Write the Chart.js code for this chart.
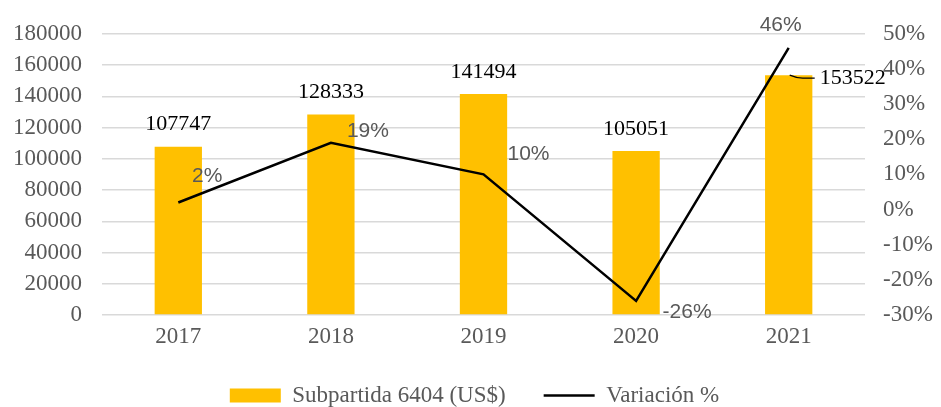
<!DOCTYPE html>
<html><head><meta charset="utf-8">
<script src="https://cdn.jsdelivr.net/npm/chart.js@4.4.1/dist/chart.umd.min.js"></script>
<style>html,body{margin:0;padding:0;background:#fff}#wrap{width:941px;height:407px;position:relative}</style>
</head><body><div id="wrap"><canvas id="c"></canvas></div>
<script>
const categories = ['2017', '2018', '2019', '2020', '2021'];
const exportValues = [107747, 128333, 141494, 105051, 153522];
const variationPct = [2, 19, 10, -26, 46];
const leftAxis = { min: 0, max: 180000, step: 20000 };
const rightAxis = { min: -30, max: 50, step: 10 };
const seriesNames = ['Subpartida 6404 (US$)', 'Variación %'];

const SERIF = '"Liberation Serif", "Times New Roman", serif';
const SANS = '"Liberation Sans", Arial, sans-serif';
const GREY = '#595959';

const labelPlugin = {
  id: 'dataLabels',
  beforeLayout(chart) {
    const lg = chart.legend;
    if (lg && !lg._patchedFit) {
      const orig = lg.fit.bind(lg);
      lg.fit = function () { orig(); this.height = 61; };
      lg._patchedFit = true;
    }
  },
  afterLayout(chart) {
    const lg = chart.legend;
    if (lg) { lg.left = 8; }
  },
  afterDatasetsDraw(chart, args, opts) {
    const ctx = chart.ctx;
    const barMeta = chart.getDatasetMeta(0);
    const lineMeta = chart.getDatasetMeta(1);
    ctx.save();
    ctx.textBaseline = 'middle';
    ctx.font = '22px ' + SERIF;
    ctx.fillStyle = '#000';
    barMeta.data.forEach((bar, i) => {
      const off = opts.valueOffsets[i];
      ctx.textAlign = 'center';
      ctx.fillText(String(exportValues[i]), bar.x + off[0], bar.y + off[1]);
      if (off[2]) {
        ctx.strokeStyle = '#000';
        ctx.lineWidth = 1.2;
        ctx.beginPath();
        ctx.moveTo(bar.x + 1, bar.y);
        ctx.quadraticCurveTo(bar.x + 8, bar.y + 3, bar.x + 14, bar.y + 3);
        ctx.lineTo(bar.x + 26, bar.y + 3);
        ctx.stroke();
      }
    });
    ctx.font = '21px ' + SANS;
    ctx.fillStyle = GREY;
    ctx.textAlign = 'center';
    lineMeta.data.forEach((pt, i) => {
      const off = opts.pctOffsets[i];
      ctx.fillText(variationPct[i] + '%', pt.x + off[0], pt.y + off[1]);
    });
    ctx.restore();
  }
};

new Chart(document.getElementById('c'), {
  type: 'bar',
  data: {
    labels: categories,
    datasets: [
      {
        type: 'bar',
        label: seriesNames[0],
        data: exportValues,
        backgroundColor: '#FFC000',
        borderWidth: 0,
        pointStyle: 'rect',
        yAxisID: 'y',
        order: 2,
        barPercentage: 0.31,
        categoryPercentage: 1
      },
      {
        type: 'line',
        label: seriesNames[1],
        data: variationPct,
        borderColor: '#000',
        backgroundColor: '#000',
        borderWidth: 2.5,
        pointRadius: 0,
        pointHoverRadius: 0,
        pointStyle: 'line',
        tension: 0,
        yAxisID: 'y1',
        order: 1
      }
    ]
  },
  options: {
    responsive: true,
    maintainAspectRatio: false,
    animation: false,
    layout: { padding: { top: 30, left: 0, right: 0, bottom: 0 } },
    plugins: {
      tooltip: { enabled: false },
      legend: {
        position: 'bottom',
        labels: {
          usePointStyle: true,
          pointStyleWidth: 51,
          boxHeight: 14,
          padding: 38,
          color: GREY,
          font: { family: SERIF, size: 23 },
          sort: (a, b) => a.datasetIndex - b.datasetIndex
        }
      },
      dataLabels: {
        valueOffsets: [[0, -22], [0, -22], [0, -22], [0, -22], [64, 3.5, true]],
        pctOffsets: [[29, -26], [37, -12], [45, -20], [51, 11], [-8, -23]]
      }
    },
    scales: {
      x: {
        grid: { display: false, drawTicks: false },
        border: { display: false },
        ticks: { color: GREY, font: { family: SERIF, size: 23 }, padding: 8 },
        afterFit(s) { s.height = 31; }
      },
      y: {
        position: 'left',
        min: leftAxis.min, max: leftAxis.max,
        ticks: { stepSize: leftAxis.step, autoSkip: false, color: GREY, font: { family: SERIF, size: 23 }, padding: 20, callback: v => String(v) },
        grid: { color: '#D9D9D9', lineWidth: 1.5, drawTicks: false },
        border: { display: false },
        afterFit(s) { s.width = 102; }
      },
      y1: {
        position: 'right',
        min: rightAxis.min, max: rightAxis.max,
        ticks: { stepSize: rightAxis.step, autoSkip: false, color: GREY, font: { family: SERIF, size: 23 }, padding: 18, callback: v => v + '%' },
        grid: { display: false, drawTicks: false },
        border: { display: false },
        afterFit(s) { s.width = 76; }
      }
    }
  },
  plugins: [labelPlugin]
});
</script>
</body></html>
